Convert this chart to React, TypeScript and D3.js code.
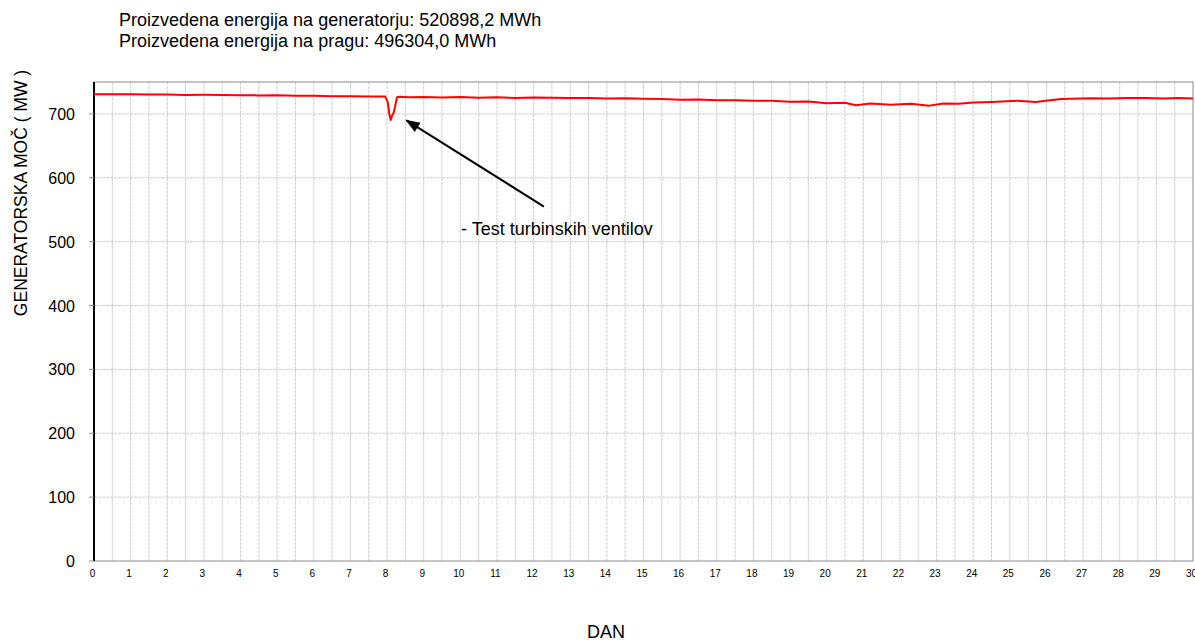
import { scaleLinear, line, range } from "d3";

// daily generator power readings (day of month, MW)
const days = [
  0, 0.5, 1, 1.5, 2, 2.5, 3, 3.5, 4, 4.5, 5, 5.5, 6, 6.5, 7, 7.5, 7.95, 8.02, 8.06, 8.1, 8.14, 8.18,
  8.22, 8.27, 8.35, 8.6, 9, 9.5, 10, 10.5, 11, 11.5, 12, 12.5, 13, 13.5, 14, 14.5, 15, 15.5, 16, 16.5,
  17, 17.5, 18, 18.5, 19, 19.5, 20, 20.5, 20.8, 21.2, 21.75, 22.3, 22.8, 23.2, 23.6, 24, 24.5, 25.2,
  25.7, 26.4, 27.2, 27.7, 28.2, 28.7, 29.2, 29.6, 30,
];
const power = [
  731, 730.8, 731, 730.5, 730.6, 729.8, 730, 729.6, 729.4, 729, 729.2, 728.3, 728.5, 727.6, 727.5,
  727.4, 727.2, 718, 700, 690.5, 698, 702, 712, 726, 726.8, 726.2, 726.5, 725.8, 726.4, 725.2, 726.3,
  725, 725.6, 725.4, 724.8, 725.1, 724.2, 724.5, 723.6, 723.2, 722.4, 722.6, 721.4, 721.6, 720.5,
  720.8, 718.9, 719.3, 716.8, 717.4, 713.5, 716.2, 714.5, 716, 713, 716.5, 716, 717.8, 718.6, 720.6,
  718.6, 723.2, 724.6, 724, 724.8, 725, 724, 724.8, 724.2,
];

const xTicks = range(0, 31);
const yTicks = [0, 100, 200, 300, 400, 500, 600, 700];
const titleLines = [
  "Proizvedena energija na generatorju: 520898,2 MWh",
  "Proizvedena energija na pragu: 496304,0 MWh",
];
const note = "- Test turbinskih ventilov";

const W = 1195;
const H = 643;
const plot = { left: 94, right: 1193, top: 82, bottom: 561 };
const font = "Arial, 'Liberation Sans', sans-serif";

export default function App() {
  const x = scaleLinear().domain([0, 30]).range([plot.left, plot.right]);
  const y = scaleLinear().domain([0, 750]).range([plot.bottom, plot.top]);

  const pts = days.map((d, i) => [d, power[i]] as [number, number]);
  const path = line<[number, number]>()
    .x((d) => x(d[0]))
    .y((d) => y(d[1]))(pts);

  const halfDays = range(0.5, 30, 0.5);

  return (
    <svg
      width={W}
      height={H}
      style={{ position: "absolute", left: 0, top: 0, background: "#fff" }}
      fontFamily={font}
    >
      <defs>
        <marker id="head" viewBox="0 0 12 10" refX="11" refY="5" markerWidth="8" markerHeight="6" orient="auto">
          <path d="M0,0.5 L12,5 L0,9.5 z" fill="#000" />
        </marker>
      </defs>

      {/* titles */}
      {titleLines.map((t, i) => (
        <text key={t} x={119} y={26 + i * 21} fontSize={18} fill="#000">
          {t}
        </text>
      ))}

      {/* grid */}
      {halfDays.map((d) => (
        <line
          key={"v" + d}
          x1={x(d)}
          x2={x(d)}
          y1={plot.top}
          y2={plot.bottom}
          stroke="#cccccc"
          strokeDasharray="3,1"
        />
      ))}
      {yTicks.slice(1).map((v) => (
        <line
          key={"h" + v}
          x1={plot.left}
          x2={plot.right}
          y1={y(v)}
          y2={y(v)}
          stroke="#cccccc"
          strokeDasharray="3,1"
        />
      ))}

      {/* frame */}
      <rect
        x={plot.left}
        y={plot.top}
        width={plot.right - plot.left}
        height={plot.bottom - plot.top}
        fill="none"
        stroke="#8c8c8c"
      />
      <line x1={plot.left} x2={plot.left} y1={plot.top} y2={plot.bottom} stroke="#000" strokeWidth={2} />

      {/* y axis */}
      {yTicks.map((v) => (
        <g key={"yt" + v}>
          <line x1={plot.left - 5} x2={plot.left} y1={y(v)} y2={y(v)} stroke="#8c8c8c" />
          <text x={75} y={y(v) + 6} fontSize={16} textAnchor="end" fill="#000">
            {v}
          </text>
        </g>
      ))}
      <text
        transform={`translate(27, 193) rotate(-90)`}
        fontSize={17.5}
        textAnchor="middle"
        fill="#000"
      >
        GENERATORSKA MOČ ( MW )
      </text>

      {/* x axis */}
      {xTicks.map((d) => (
        <text key={"xt" + d} x={x(d) - 1.5} y={577} fontSize={10} textAnchor="middle" fill="#000">
          {d}
        </text>
      ))}
      <text x={606} y={638} fontSize={18} textAnchor="middle" fill="#000">
        DAN
      </text>

      {/* series */}
      <path d={path ?? ""} fill="none" stroke="#ff0000" strokeWidth={2} strokeLinejoin="round" />

      {/* annotation */}
      <line
        x1={x(12.28)}
        y1={y(555)}
        x2={x(8.53)}
        y2={y(690)}
        stroke="#000"
        strokeWidth={2}
        markerEnd="url(#head)"
      />
      <text x={461} y={235} fontSize={18} fill="#000">
        {note}
      </text>
    </svg>
  );
}
